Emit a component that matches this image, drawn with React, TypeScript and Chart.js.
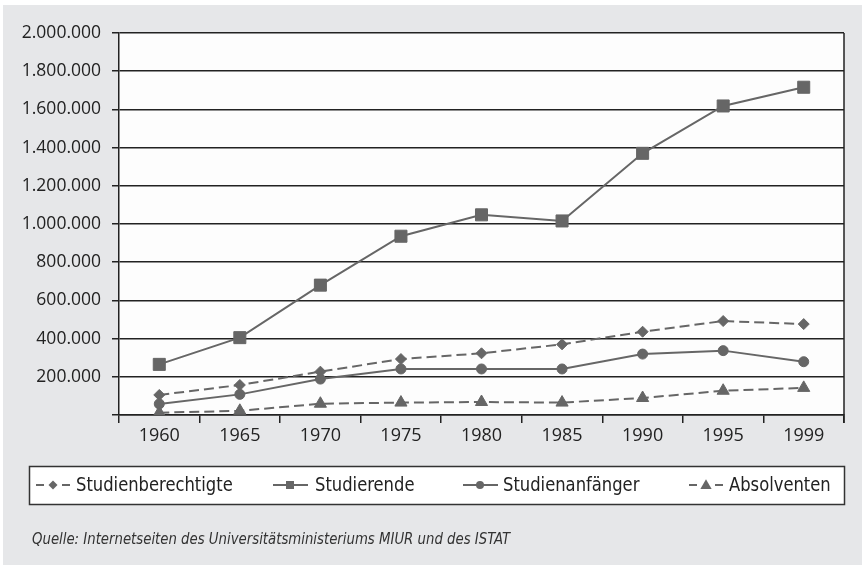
import React, { useEffect, useRef } from 'react';
import { Chart, registerables } from 'chart.js';

Chart.register(...registerables);

const years = ['1960', '1965', '1970', '1975', '1980', '1985', '1990', '1995', '1999'];
const studienberechtigte = [105000, 157000, 227000, 293000, 323000, 370000, 436000, 492000, 476000];
const studierende = [265000, 405000, 680000, 936000, 1048000, 1016000, 1370000, 1618000, 1716000];
const studienanfaenger = [58000, 108000, 188000, 241000, 241000, 241000, 319000, 337000, 279000];
const absolventen = [12000, 22000, 59000, 65000, 68000, 65000, 89000, 127000, 142000];
const seriesNames = ['Studienberechtigte', 'Studierende', 'Studienanfänger', 'Absolventen'];
const yMax = 2000000;
const yStep = 200000;
const sourceText = 'Quelle: Internetseiten des Universitätsministeriums MIUR und des ISTAT';

const GREY = '#666666';
const DARK = '#222222';
const LEGEND_X = [36, 273, 463, 689];
const LEGEND_TEXT_X = [76, 315, 503, 729];

function drawMarker(ctx: CanvasRenderingContext2D, style: string, x: number, y: number, r: number) {
  ctx.beginPath();
  if (style === 'rect') {
    ctx.rect(x - r, y - r, 2 * r, 2 * r);
  } else if (style === 'rectRot') {
    ctx.moveTo(x, y - r);
    ctx.lineTo(x + r, y);
    ctx.lineTo(x, y + r);
    ctx.lineTo(x - r, y);
    ctx.closePath();
  } else if (style === 'circle') {
    ctx.arc(x, y, r, 0, Math.PI * 2);
  } else if (style === 'triangle') {
    const h = r * 1.5;
    ctx.moveTo(x, y - h * 0.6);
    ctx.lineTo(x + r * 0.87, y + h * 0.4);
    ctx.lineTo(x - r * 0.87, y + h * 0.4);
    ctx.closePath();
  }
  ctx.fill();
}

function condensedText(ctx: CanvasRenderingContext2D, text: string, x: number, y: number, sx: number) {
  ctx.save();
  ctx.translate(x, y);
  ctx.scale(sx, 1);
  ctx.fillText(text, 0, 0);
  ctx.restore();
}

const panelPlugin = {
  id: 'panel',
  beforeDraw(chart: any) {
    const { ctx, chartArea: a, width, height } = chart;
    ctx.save();
    ctx.fillStyle = '#ffffff';
    ctx.fillRect(0, 0, width, height);
    ctx.fillStyle = '#e6e7e9';
    ctx.fillRect(3, 5, width - 3, height - 5);
    ctx.fillStyle = '#fdfdfd';
    ctx.fillRect(a.left, a.top, a.right - a.left, a.bottom - a.top);
    ctx.restore();
  },
  afterDraw(chart: any) {
    const { ctx, chartArea: a } = chart;
    ctx.save();
    // right frame line
    ctx.strokeStyle = DARK;
    ctx.lineWidth = 1.5;
    ctx.beginPath();
    ctx.moveTo(a.right, a.top);
    ctx.lineTo(a.right, a.bottom + 8);
    ctx.stroke();

    // legend box
    ctx.fillStyle = '#ffffff';
    ctx.fillRect(29.5, 466.5, 815, 38);
    ctx.strokeStyle = '#333333';
    ctx.lineWidth = 1.5;
    ctx.strokeRect(29.5, 466.5, 815, 38);

    const ly = 485;
    const legendMarkerR: Record<string, number> = { rectRot: 4.5, rect: 4, circle: 4, triangle: 6.5 };
    chart.data.datasets.forEach((ds: any, i: number) => {
      const sx = LEGEND_X[i];
      ctx.strokeStyle = ds.borderColor;
      ctx.fillStyle = ds.borderColor;
      ctx.lineWidth = 2;
      ctx.setLineDash([]);
      ctx.beginPath();
      if (ds.borderDash && ds.borderDash.length) {
        ctx.moveTo(sx, ly);
        ctx.lineTo(sx + 8, ly);
        ctx.moveTo(sx + 26, ly);
        ctx.lineTo(sx + 34, ly);
      } else {
        ctx.moveTo(sx, ly);
        ctx.lineTo(sx + 35, ly);
      }
      ctx.stroke();
      drawMarker(ctx, ds.pointStyle, sx + 17, ly, legendMarkerR[ds.pointStyle]);
      ctx.fillStyle = DARK;
      ctx.font = '20px "DejaVu Sans Condensed", "DejaVu Sans"';
      ctx.textBaseline = 'middle';
      ctx.textAlign = 'left';
      condensedText(ctx, ds.label, LEGEND_TEXT_X[i], ly + 1, 0.91);
    });

    // source
    ctx.fillStyle = '#333333';
    ctx.font = 'italic 16px "DejaVu Sans Condensed", "DejaVu Sans"';
    ctx.textBaseline = 'middle';
    ctx.textAlign = 'left';
    condensedText(ctx, sourceText, 32, 540, 0.923);
    ctx.restore();
  },
};

export default function App() {
  const ref = useRef<HTMLCanvasElement | null>(null);

  useEffect(() => {
    document.body.style.margin = '0';
    const canvas = ref.current;
    if (!canvas) return;
    const common = {
      borderColor: GREY,
      backgroundColor: GREY,
      pointBackgroundColor: GREY,
      pointBorderColor: GREY,
      borderWidth: 2,
      pointBorderWidth: 1,
      tension: 0,
      fill: false,
    };
    const chart = new Chart(canvas, {
      type: 'line',
      data: {
        labels: years,
        datasets: [
          { ...common, label: seriesNames[0], data: studienberechtigte, borderDash: [10, 5], pointStyle: 'rectRot', pointRadius: 5.5 },
          { ...common, label: seriesNames[1], data: studierende, pointStyle: 'rect', pointRadius: 8.5 },
          { ...common, label: seriesNames[2], data: studienanfaenger, pointStyle: 'circle', pointRadius: 5 },
          { ...common, label: seriesNames[3], data: absolventen, borderDash: [10, 5], pointStyle: 'triangle', pointRadius: 7 },
        ],
      },
      options: {
        animation: false,
        responsive: false,
        devicePixelRatio: 1,
        layout: { padding: { left: 0, top: 33, right: 18, bottom: 110 } },
        plugins: {
          legend: { display: false },
          tooltip: { enabled: false },
        },
        scales: {
          x: {
            offset: true,
            grid: {
              offset: true,
              drawOnChartArea: false,
              tickLength: 8,
              color: DARK,
              lineWidth: 1.5,
            },
            border: { display: true, color: DARK, width: 1.5 },
            ticks: {
              color: DARK,
              font: { family: '"Open Sans", "Liberation Sans", sans-serif', size: 18 },
              padding: 2,
              maxRotation: 0,
            },
            afterFit: (s: any) => { s.height = 40; },
          },
          y: {
            min: 0,
            max: yMax,
            grid: {
              color: DARK,
              lineWidth: 1.5,
              tickLength: 7,
            },
            border: { display: true, color: DARK, width: 1.5 },
            ticks: {
              stepSize: yStep,
              color: DARK,
              padding: 11,
              font: { family: '"Open Sans", "Liberation Sans", sans-serif', size: 17.5 },
              callback: (v: any) => (Number(v) === 0 ? '' : Number(v).toLocaleString('de-DE')),
            },
            afterFit: (s: any) => { s.width = 119; },
          },
        },
      },
      plugins: [panelPlugin],
    } as any);
    return () => chart.destroy();
  }, []);

  return (
    <div style={{ width: 862, height: 565 }}>
      <canvas ref={ref} width={862} height={565} style={{ display: 'block', width: 862, height: 565 }} />
    </div>
  );
}
